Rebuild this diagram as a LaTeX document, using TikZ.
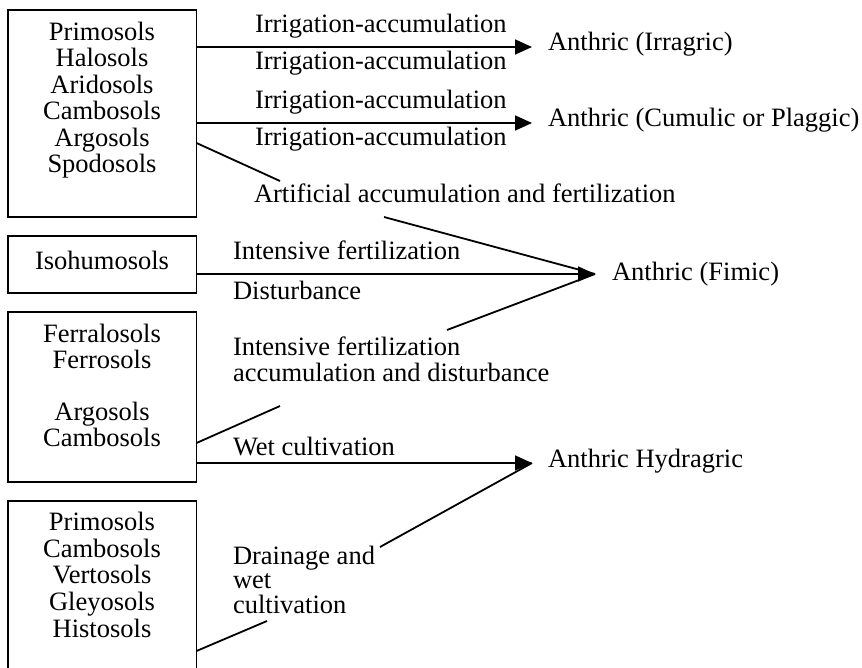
\documentclass[tikz,border=0pt]{standalone}
\usepackage{fontspec}
\setmainfont{Liberation Serif}
\usetikzlibrary{arrows.meta}
\begin{document}
\begin{tikzpicture}[x=1pt,y=-1pt,
  every node/.style={inner sep=0pt, outer sep=0pt, font=\fontsize{26.5}{26.5}\selectfont},
  soilbox/.style={draw, line width=1.5pt, anchor=north west, minimum width=188.5pt},
  lbl/.style={anchor=base west},
  conn/.style={line width=1.8pt},
  arr/.style={conn, -{Triangle[length=17pt,width=15pt]}},
]
\clip (0,0) rectangle (862,668);
\fill[white] (0,0) rectangle (862,668);

% boxes
\node[soilbox, minimum height=207pt] (b1) at (8,10) {};
\node[soilbox, minimum height=57pt] (b2) at (8,236) {};
\node[soilbox, minimum height=170pt] (b3) at (8,312) {};
\node[soilbox, minimum height=180pt] (b4) at (8,501) {};

% box texts
\node[anchor=north, align=center] (t1) at (102,22) {Primosols\\Halosols\\Aridosols\\Cambosols\\Argosols\\Spodosols};
\node[anchor=base] (t2) at (102,270) {Isohumosols};
\node[anchor=north, align=center, font=\fontsize{26.5}{26}\selectfont] (t3) at (102,324) {Ferralosols\\Ferrosols\\[26pt]Argosols\\Cambosols};
\node[anchor=north, align=center, font=\fontsize{26.5}{26.7}\selectfont] (t4) at (102,512) {Primosols\\Cambosols\\Vertosols\\Gleyosols\\Histosols};

% process labels
\node[lbl] (l1a) at (255,33) {Irrigation-accumulation};
\node[lbl] (l1b) at (255,70) {Irrigation-accumulation};
\node[lbl] (l2a) at (255,109) {Irrigation-accumulation};
\node[lbl] (l2b) at (255,146) {Irrigation-accumulation};
\node[lbl] (l3) at (254,203) {Artificial accumulation and fertilization};
\node[lbl] (l4a) at (233,260) {Intensive fertilization};
\node[lbl] (l4b) at (233,300) {Disturbance};
\node[anchor=north west, align=left, font=\fontsize{26.5}{26}\selectfont] (l5) at (233,337) {Intensive fertilization\\accumulation and disturbance};
\node[lbl] (l6) at (233,455) {Wet cultivation};
\node[anchor=north west, align=left, font=\fontsize{26.5}{24.5}\selectfont] (l7) at (233,546) {Drainage and\\wet\\cultivation};

% targets
\node[lbl] (a1) at (548,51) {Anthric (Irragric)};
\node[lbl] (a2) at (548,127) {Anthric (Cumulic or Plaggic)};
\node[lbl] (a3) at (612,281) {Anthric (Fimic)};
\node[lbl] (a4) at (548,467) {Anthric Hydragric};

% arrow tips and bend points
\coordinate (p1) at (532,47);
\coordinate (p2) at (532,123);
\coordinate (p3) at (595,274);
\coordinate (p4) at (532,463);
\coordinate (d1s) at (0,143);
\coordinate (d1e) at (280,181);
\coordinate (d1f) at (384,217);
\coordinate (d3s) at (0,443);
\coordinate (d3e) at (280,406);
\coordinate (d3f) at (447,330);
\coordinate (d4s) at (0,651);
\coordinate (d4e) at (267,621);
\coordinate (d4f) at (380,547);

% connectors
\draw[conn] (b1.east |- d1s) -- (d1e);
\draw[conn] (d1f) -- (p3);
\draw[conn] (b3.east |- d3s) -- (d3e);
\draw[conn] (d3f) -- (p3);
\draw[conn] (b4.east |- d4s) -- (d4e);
\draw[conn] (d4f) -- (p4);
\draw[arr] (b1.east |- p1) -- (p1);
\draw[arr] (b1.east |- p2) -- (p2);
\draw[arr] (b2.east |- p3) -- (p3);
\draw[arr] (b3.east |- p4) -- (p4);
\end{tikzpicture}
\end{document}
